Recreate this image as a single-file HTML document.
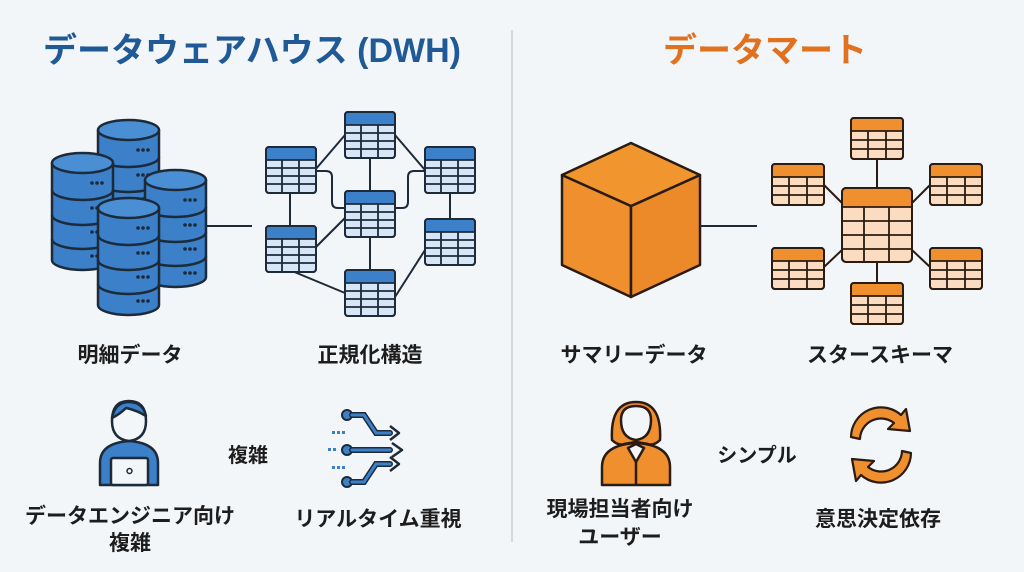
<!DOCTYPE html>
<html><head><meta charset="utf-8"><style>
html,body{margin:0;padding:0;background:#f3f6f9;}
svg{display:block;font-family:"Liberation Sans","Noto Sans CJK JP",sans-serif;}
.l{font-size:21px;font-weight:bold;fill:#1d1d1d;text-anchor:middle;}
</style></head><body>
<svg width="1024" height="572" viewBox="0 0 1024 572" xmlns="http://www.w3.org/2000/svg">
<defs>
<g id="cyl">
 <path d="M0,10 v97 a30.5,10 0 0 0 61,0 v-97" fill="#3b80c8" stroke="#1c2a3a" stroke-width="2.5"/>
 <path d="M0,37 a30.5,10 0 0 0 61,0 M0,62 a30.5,10 0 0 0 61,0 M0,86 a30.5,10 0 0 0 61,0" fill="none" stroke="#1c2a3a" stroke-width="2.5"/>
 <ellipse cx="30.5" cy="10" rx="30.5" ry="10" fill="#4a8fd4" stroke="#1c2a3a" stroke-width="2.5"/>
 <g fill="#1c2a3a"><circle cx="40" cy="30" r="1.8"/><circle cx="45" cy="30" r="1.8"/><circle cx="50" cy="30" r="1.8"/>
 <circle cx="40" cy="55" r="1.8"/><circle cx="45" cy="55" r="1.8"/><circle cx="50" cy="55" r="1.8"/>
 <circle cx="40" cy="79" r="1.8"/><circle cx="45" cy="79" r="1.8"/><circle cx="50" cy="79" r="1.8"/>
 <circle cx="40" cy="103" r="1.8"/><circle cx="45" cy="103" r="1.8"/><circle cx="50" cy="103" r="1.8"/></g>
</g>
<g id="bt">
 <rect x="0" y="0" width="50" height="46" rx="3" fill="#d6e6f6" stroke="#1c2a3a" stroke-width="2"/>
 <path d="M1,1 h48 v12 h-48z" fill="#3b80c8"/>
 <path d="M0,13 h50 M0,21 h50 M0,29 h50 M0,37 h50 M16,13 v33 M33,13 v33" stroke="#1c2a3a" stroke-width="1.8"/>
 <rect x="0" y="0" width="50" height="46" rx="3" fill="none" stroke="#1c2a3a" stroke-width="2"/>
</g>
<g id="ot">
 <rect x="0" y="0" width="52" height="41" rx="3" fill="#fbdcc0" stroke="#2a1c12" stroke-width="2"/>
 <path d="M1,1 h50 v12 h-50z" fill="#ef8f2e"/>
 <path d="M0,13 h52 M0,22 h52 M0,31 h52 M17,13 v28 M35,13 v28" stroke="#2a1c12" stroke-width="1.8"/>
 <rect x="0" y="0" width="52" height="41" rx="3" fill="none" stroke="#2a1c12" stroke-width="2"/>
</g>
</defs>

<line x1="512" y1="30" x2="512" y2="542" stroke="#c9ced4" stroke-width="1.5"/>

<text x="252" y="62" font-size="34" font-weight="bold" fill="#1f5a96" text-anchor="middle">データウェアハウス (DWH)</text>
<text x="765" y="62" font-size="34" font-weight="bold" fill="#e0721f" text-anchor="middle">データマート</text>

<use href="#cyl" x="98" y="120"/>
<use href="#cyl" x="52" y="153"/>
<use href="#cyl" x="145" y="170"/>
<use href="#cyl" x="98" y="198"/>
<line x1="205" y1="226" x2="252" y2="226" stroke="#1c2a3a" stroke-width="2"/>

<g stroke="#1c2a3a" stroke-width="2" fill="none">
<path d="M315,170 L345,135"/>
<path d="M315,171 H326 q6,0 6,6 v25 q0,6 6,6 H345"/>
<path d="M290,193 V226"/>
<path d="M370,157 V191"/>
<path d="M395,135 L425,170"/>
<path d="M425,171 H414 q-6,0 -6,6 v25 q0,6 -6,6 H395"/>
<path d="M450,192 V219"/>
<path d="M315,248 L345,218"/>
<path d="M292,271 L345,293"/>
<path d="M370,236 V270"/>
<path d="M425,250 L395,297"/>
</g>
<use href="#bt" x="266" y="147"/>
<use href="#bt" x="345" y="112"/>
<use href="#bt" x="425" y="147"/>
<use href="#bt" x="345" y="191"/>
<use href="#bt" x="266" y="226"/>
<use href="#bt" x="425" y="219"/>
<use href="#bt" x="345" y="270"/>

<g stroke="#2a1c12" stroke-width="2.5" stroke-linejoin="round">
<path d="M562,175 L631,206 L631,297 L562,265Z" fill="#ef8f2e"/>
<path d="M631,206 L700,175 L700,265 L631,297Z" fill="#ec8a2a"/>
<path d="M562,175 L631,143 L700,175 L631,206Z" fill="#f1962f"/>
</g>
<line x1="700" y1="226" x2="757" y2="226" stroke="#1c2a3a" stroke-width="2"/>

<g stroke="#2a1c12" stroke-width="2">
<line x1="877" y1="158" x2="877" y2="188"/>
<line x1="877" y1="262" x2="877" y2="283"/>
<line x1="824" y1="185" x2="842" y2="203"/>
<line x1="930" y1="185" x2="912" y2="203"/>
<line x1="824" y1="267" x2="842" y2="250"/>
<line x1="930" y1="267" x2="912" y2="250"/>
</g>
<g>
<rect x="842" y="188" width="70" height="74" rx="4" fill="#fbdcc0" stroke="#2a1c12" stroke-width="2"/>
<path d="M843,189 h68 v18 h-68z" fill="#ef8f2e"/>
<path d="M842,207 h70 M842,221 h70 M842,235 h70 M842,249 h70 M864,207 v55 M889,207 v55" stroke="#2a1c12" stroke-width="1.8"/>
<rect x="842" y="188" width="70" height="74" rx="4" fill="none" stroke="#2a1c12" stroke-width="2"/>
</g>
<use href="#ot" x="851" y="118"/>
<use href="#ot" x="772" y="164"/>
<use href="#ot" x="930" y="164"/>
<use href="#ot" x="772" y="248"/>
<use href="#ot" x="930" y="248"/>
<use href="#ot" x="851" y="283"/>

<text class="l" x="130" y="362">明細データ</text>
<text class="l" x="370" y="362">正規化構造</text>
<text class="l" x="634" y="362">サマリーデータ</text>
<text class="l" x="880" y="362">スタースキーマ</text>

<g stroke="#1c2a3a" stroke-width="2.5" stroke-linejoin="round">
<path d="M100,485 v-22 q0,-20 29,-22 q29,2 29,22 v22z" fill="#3b80c8"/>
<path d="M112,421 q0,-20 17,-20 q17,0 17,20 q0,18 -17,20 q-17,-2 -17,-20z" fill="#f3f6f9"/>
<path d="M112,418 q3,-16 17,-16 q14,0 17,14 q-10,-6 -20,-8 q-6,6 -14,10z" fill="#3b80c8"/>
<rect x="111" y="458" width="37" height="27" rx="2" fill="#f3f6f9"/>
</g>
<circle cx="129.5" cy="471" r="2.5" fill="none" stroke="#1c2a3a" stroke-width="1.5"/>
<text x="248" y="462" font-size="20" font-weight="bold" fill="#1d1d1d" text-anchor="middle">複雑</text>

<g stroke="#1c2a3a" stroke-width="2" fill="#3b80c8">
<circle cx="347" cy="415" r="5"/><circle cx="347" cy="450" r="5"/><circle cx="347" cy="482" r="5"/>
</g>
<g fill="none" stroke="#1c2a3a" stroke-width="6" stroke-linecap="round">
<path d="M352,415 h12 l12,18 h14"/><path d="M352,450 h38"/><path d="M352,482 h12 l12,-18 h14"/>
</g>
<g fill="none" stroke="#3b80c8" stroke-width="3" stroke-linecap="round">
<path d="M352,415 h12 l12,18 h14"/><path d="M352,450 h38"/><path d="M352,482 h12 l12,-18 h14"/>
</g>
<g fill="none" stroke="#1c2a3a" stroke-width="2.5" stroke-linejoin="round">
<path d="M390,426 l9,7 l-9,7"/><path d="M392,443 l10,7 l-10,7"/><path d="M390,457 l9,7 l-9,7"/>
</g>
<g fill="#3b80c8"><rect x="337" y="431" width="3" height="3"/><rect x="332" y="431" width="3" height="3"/><rect x="342" y="431" width="3" height="3"/>
<rect x="333" y="448" width="3" height="3"/><rect x="328" y="448" width="3" height="3"/>
<rect x="337" y="466" width="3" height="3"/><rect x="332" y="466" width="3" height="3"/><rect x="342" y="466" width="3" height="3"/></g>

<text class="l" x="130" y="523">データエンジニア向け</text>
<text class="l" x="130" y="550">複雑</text>
<text class="l" x="378" y="526">リアルタイム重視</text>

<g stroke="#2a1c12" stroke-width="2.5" stroke-linejoin="round">
<path d="M602,485 v-18 q0,-22 34,-24 q34,2 34,24 v18z" fill="#ef8f2e"/>
<path d="M612,440 q-2,-38 24,-38 q26,0 24,38 q-6,6 -12,4 l-12,-2 l-12,2 q-6,2 -12,-4z" fill="#ef8f2e"/>
<path d="M621,420 q0,-14 15,-14 q15,0 15,14 q0,18 -15,20 q-15,-2 -15,-20z" fill="#f3f6f9"/>
<path d="M628,448 l8,14 l8,-14 l-8,-4z" fill="#f3f6f9"/>
<path d="M636,462 v23" fill="none"/>
</g>
<text x="757" y="462" font-size="20" font-weight="bold" fill="#1d1d1d" text-anchor="middle">シンプル</text>

<g stroke="#2a1c12" stroke-width="2.2" fill="#ef8f2e" stroke-linejoin="round">
<path d="M851,437 a30,30 0 0 1 50,-22 l5,-6 l4,22 l-22,-2 l6,-6 a21,21 0 0 0 -34,16z"/>
<path d="M911,453 a30,30 0 0 1 -50,22 l-5,6 l-4,-22 l22,2 l-6,6 a21,21 0 0 0 34,-16z"/>
</g>

<text class="l" x="620" y="516">現場担当者向け</text>
<text class="l" x="620" y="544">ユーザー</text>
<text class="l" x="878" y="526">意思決定依存</text>
</svg>
</body></html>
